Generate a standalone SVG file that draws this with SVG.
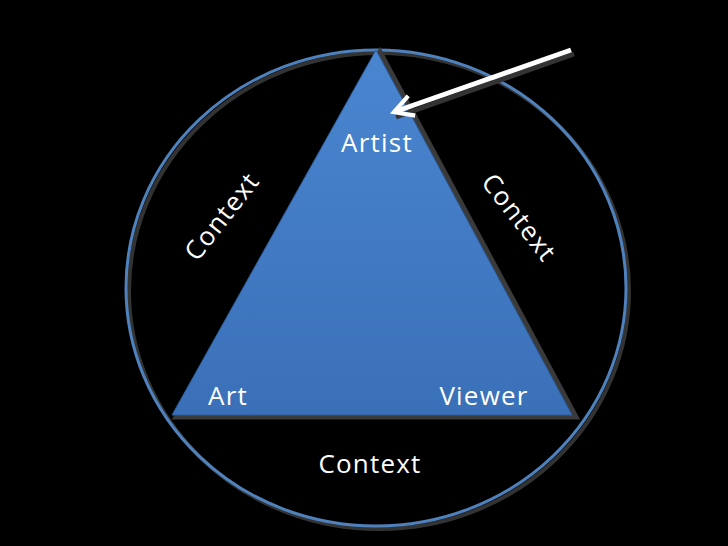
<svg xmlns="http://www.w3.org/2000/svg" width="728" height="546" viewBox="0 0 728 546">
<style>
.t{font-family:"Open Sans","Noto Sans",sans-serif;font-size:26px;letter-spacing:1.2px;fill:#fff;text-anchor:middle}
</style>
<defs>
<linearGradient id="g" x1="0" y1="0" x2="0" y2="1"><stop offset="0" stop-color="#4a86d0"/><stop offset="1" stop-color="#3a70b8"/></linearGradient>
<marker id="ah" viewBox="0 0 12 12" refX="10" refY="6" markerWidth="5" markerHeight="5" orient="auto" markerUnits="strokeWidth"><path d="M1,1 L10,6 L1,11" fill="none" stroke="#fff" stroke-width="2"/></marker>
</defs>
<rect width="728" height="546" fill="#000"/>
<g id="circle">
<ellipse cx="379" cy="291" rx="250" ry="238" fill="none" stroke="#333" stroke-width="4"/>
<ellipse cx="376" cy="288" rx="250" ry="238" fill="none" stroke="#4f81bd" stroke-width="3"/>
</g>
<g id="triangle">
<polygon points="380,52 576,417 176,417" fill="none" stroke="#3a3a3a" stroke-width="5"/>
<polygon points="376,50 572,415 172,415" fill="url(#g)" stroke="#2c5c99" stroke-width="1"/>
</g>
<g id="connectors">
<line x1="574" y1="54" x2="396" y2="117" stroke="#333" stroke-width="5"/>
<line x1="571" y1="50" x2="394" y2="112" stroke="#fff" stroke-width="5" marker-end="url(#ah)"/>
</g>
<g id="labels">
<text class="t" x="377" y="152">Artist</text>
<text class="t" x="228" y="405">Art</text>
<text class="t" x="484" y="405">Viewer</text>
<text class="t" x="370" y="473">Context</text>
<text class="t" transform="translate(229,222) rotate(-52)">Context</text>
<text class="t" transform="translate(512,223) rotate(52)">Context</text>
</g>
</svg>
